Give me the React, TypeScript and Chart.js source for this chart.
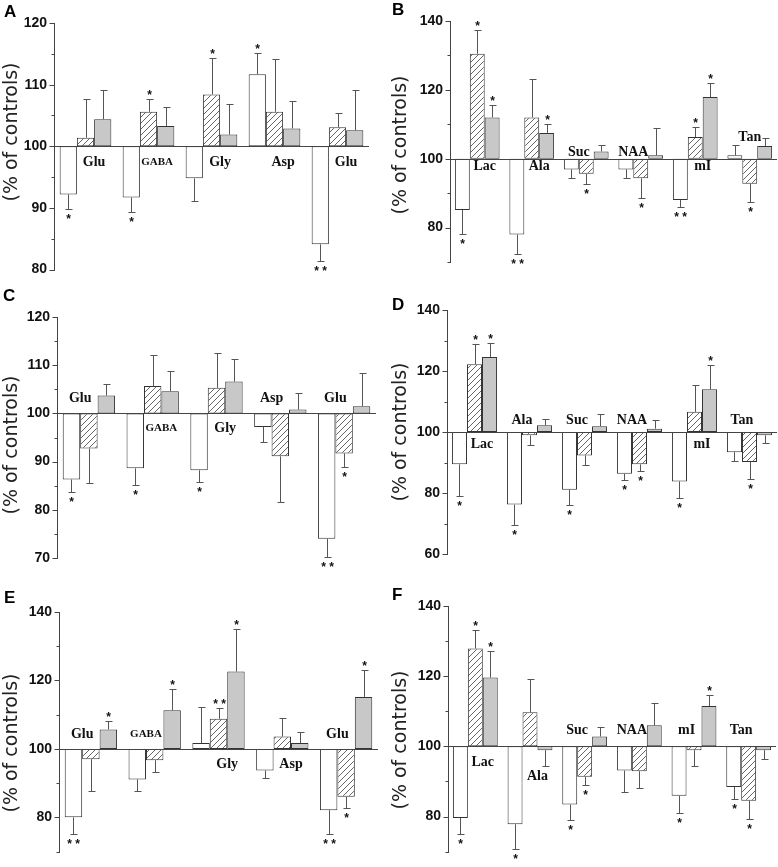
import React, { useEffect, useRef } from 'react';
import { Chart, registerables } from 'chart.js';

Chart.register(...registerables);

// ---------------- Panel A ----------------
const catsA = ['Glu', 'GABA', 'Gly', 'Asp', 'Glu'];
const whiteA = [92.2, 91.7, 94.8, 111.7, 84.1];
const whiteSdA = [2.3, 2.4, 3.6, 3.4, 2.7];
const whiteStarA = ['*', '*', '', '*', '**'];
const hatchA = [101.4, 105.6, 108.4, 105.6, 103.1];
const hatchSdA = [6.3, 2.0, 6.0, 8.6, 2.3];
const hatchStarA = ['', '*', '*', '', ''];
const grayA = [104.4, 103.3, 101.9, 102.9, 102.6];
const graySdA = [4.7, 3.0, 5.0, 4.4, 6.6];
const grayStarA = ['', '', '', '', ''];

// ---------------- Panel B ----------------
const catsB = ['Lac', 'Ala', 'Suc', 'NAA', 'mI', 'Tan'];
const whiteB = [85.1, 78.0, 96.9, 96.9, 88.0, 101.0];
const whiteSdB = [7.1, 5.8, 2.6, 2.5, 2.0, 2.9];
const whiteStarB = ['*', '**', '', '', '**', ''];
const hatchB = [130.5, 112.0, 95.6, 94.3, 106.3, 92.7];
const hatchSdB = [6.9, 11.1, 2.9, 5.7, 3.0, 5.2];
const hatchStarB = ['*', '', '*', '*', '*', '*'];
const grayB = [112.0, 107.5, 102.1, 101.0, 117.9, 103.7];
const graySdB = [3.6, 2.7, 2.0, 8.0, 4.1, 2.2];
const grayStarB = ['*', '*', '', '', '*', ''];

// ---------------- Panel C ----------------
const catsC = ['Glu', 'GABA', 'Gly', 'Asp', 'Glu'];
const whiteC = [86.3, 88.6, 88.2, 97.2, 74.0];
const whiteSdC = [2.6, 3.5, 2.4, 3.2, 3.8];
const whiteStarC = ['*', '*', '*', '', '**'];
const hatchC = [92.7, 105.7, 105.3, 91.1, 91.7];
const hatchSdC = [7.2, 6.5, 7.3, 9.4, 2.8];
const hatchStarC = ['', '', '', '', '*'];
const grayC = [103.7, 104.6, 106.6, 100.8, 101.5];
const graySdC = [2.3, 4.1, 4.6, 3.5, 6.9];
const grayStarC = ['', '', '', '', ''];

// ---------------- Panel D ----------------
const catsD = ['Lac', 'Ala', 'Suc', 'NAA', 'mI', 'Tan'];
const whiteD = [89.4, 76.2, 81.1, 86.3, 83.8, 93.4];
const whiteSdD = [10.5, 6.8, 5.1, 1.9, 5.3, 2.9];
const whiteStarD = ['*', '*', '*', '*', '*', ''];
const hatchD = [122.2, 98.9, 92.3, 89.4, 106.6, 90.2];
const hatchSdD = [6.8, 3.3, 3.2, 2.3, 8.9, 5.5];
const hatchStarD = ['*', '', '', '*', '', '*'];
const grayD = [124.6, 102.2, 101.9, 101.1, 114.0, 98.9];
const graySdD = [4.6, 2.2, 4.1, 2.9, 7.9, 2.5];
const grayStarD = ['*', '', '', '', '*', ''];

// ---------------- Panel E ----------------
const catsE = ['Glu', 'GABA', 'Gly', 'Asp', 'Glu'];
const whiteE = [80.0, 91.1, 101.7, 93.7, 82.1];
const whiteSdE = [5.0, 3.3, 10.6, 2.1, 7.1];
const whiteStarE = ['**', '', '', '', '**'];
const hatchE = [97.0, 96.7, 108.8, 103.6, 86.0];
const hatchSdE = [9.2, 3.3, 3.1, 5.4, 3.3];
const hatchStarE = ['', '', '**', '', '*'];
const grayE = [105.7, 111.3, 122.6, 101.7, 115.2];
const graySdE = [2.4, 6.1, 12.5, 3.1, 8.0];
const grayStarE = ['*', '*', '*', '', '*'];

// ---------------- Panel F ----------------
const catsF = ['Lac', 'Ala', 'Suc', 'NAA', 'mI', 'Tan'];
const whiteF = [79.6, 77.8, 83.4, 93.1, 85.9, 88.4];
const whiteSdF = [4.6, 7.0, 4.4, 6.2, 4.8, 3.4];
const whiteStarF = ['*', '*', '*', '', '*', '*'];
const hatchF = [127.9, 109.7, 91.3, 92.9, 98.9, 84.5];
const hatchSdF = [5.4, 9.6, 2.4, 4.8, 4.5, 5.2];
const hatchStarF = ['*', '', '*', '', '', '*'];
const grayF = [119.6, 98.9, 102.8, 106.0, 111.5, 98.9];
const graySdF = [7.7, 4.4, 2.8, 6.3, 3.1, 2.5];
const grayStarF = ['*', '', '', '', '*', ''];

const yTitle = '(% of controls)';

type PanelCfg = {
  letter: string;
  cats: string[];
  values: number[][];
  sds: number[][];
  stars: string[][];
  min: number;
  max: number;
  minor: number;
  major: number;
  x: number;
  y: number;
  w: number;
  h: number;
  plotLeft: number;
  plotRight: number;
  plotTop: number;
  plotBottom: number;
  labelOff: number;
  titleY: number;
  letterX: number;
  letterY: number;
};

const panels: PanelCfg[] = [
  {
    letter: 'A', cats: catsA, values: [whiteA, hatchA, grayA], sds: [whiteSdA, hatchSdA, graySdA],
    stars: [whiteStarA, hatchStarA, grayStarA], min: 80, max: 120, minor: 5, major: 10,
    x: 0, y: 0, w: 389, h: 285, plotLeft: 54, plotRight: 369, plotTop: 23, plotBottom: 271,
    labelOff: 16, titleY: 132, letterX: 4, letterY: 17,
  },
  {
    letter: 'B', cats: catsB, values: [whiteB, hatchB, grayB], sds: [whiteSdB, hatchSdB, graySdB],
    stars: [whiteStarB, hatchStarB, grayStarB], min: 70, max: 140, minor: 10, major: 20,
    x: 389, y: 0, w: 389, h: 285, plotLeft: 61, plotRight: 388, plotTop: 21, plotBottom: 262,
    labelOff: 7, titleY: 145, letterX: 3, letterY: 15,
  },
  {
    letter: 'C', cats: catsC, values: [whiteC, hatchC, grayC], sds: [whiteSdC, hatchSdC, graySdC],
    stars: [whiteStarC, hatchStarC, grayStarC], min: 70, max: 120, minor: 5, major: 10,
    x: 0, y: 285, w: 389, h: 290, plotLeft: 57, plotRight: 376, plotTop: 32, plotBottom: 273,
    labelOff: 15, titleY: 160, letterX: 3, letterY: 16,
  },
  {
    letter: 'D', cats: catsD, values: [whiteD, hatchD, grayD], sds: [whiteSdD, hatchSdD, graySdD],
    stars: [whiteStarD, hatchStarD, grayStarD], min: 60, max: 140, minor: 10, major: 20,
    x: 389, y: 285, w: 389, h: 290, plotLeft: 58, plotRight: 388, plotTop: 25, plotBottom: 269,
    labelOff: 12, titleY: 147, letterX: 3, letterY: 25,
  },
  {
    letter: 'E', cats: catsE, values: [whiteE, hatchE, grayE], sds: [whiteSdE, hatchSdE, graySdE],
    stars: [whiteStarE, hatchStarE, grayStarE], min: 70, max: 140, minor: 10, major: 20,
    x: 0, y: 575, w: 389, h: 292, plotLeft: 59, plotRight: 378, plotTop: 37, plotBottom: 286,
    labelOff: 15, titleY: 168, letterX: 4, letterY: 28,
  },
  {
    letter: 'F', cats: catsF, values: [whiteF, hatchF, grayF], sds: [whiteSdF, hatchSdF, graySdF],
    stars: [whiteStarF, hatchStarF, grayStarF], min: 70, max: 140, minor: 10, major: 20,
    x: 389, y: 575, w: 389, h: 292, plotLeft: 59, plotRight: 387, plotTop: 31, plotBottom: 282,
    labelOff: 16, titleY: 165, letterX: 3, letterY: 25,
  },
];

function makeHatch(): CanvasPattern | string {
  const c = document.createElement('canvas');
  c.width = 6;
  c.height = 6;
  const g = c.getContext('2d');
  if (!g) return '#ddd';
  g.fillStyle = '#ffffff';
  g.fillRect(0, 0, 6, 6);
  g.strokeStyle = '#555';
  g.lineWidth = 0.9;
  g.beginPath();
  g.moveTo(0, 6);
  g.lineTo(6, 0);
  g.moveTo(-1, 1);
  g.lineTo(1, -1);
  g.moveTo(5, 7);
  g.lineTo(7, 5);
  g.stroke();
  return g.createPattern(c, 'repeat') || '#ddd';
}

function makePlugin(cfg: PanelCfg) {
  return {
    id: 'panelDecor',
    afterDraw(chart: any) {
      const { ctx, chartArea } = chart;
      const ys = chart.scales.y;
      const L = Math.round(chartArea.left) + 0.5;
      const pix = (v: number) => ys.getPixelForValue(v);
      ctx.save();
      ctx.strokeStyle = '#444';
      ctx.lineWidth = 1;

      // y axis line
      ctx.beginPath();
      ctx.moveTo(L, Math.round(pix(cfg.max)));
      ctx.lineTo(L, Math.round(pix(cfg.min)) + 1);
      ctx.stroke();
      // tick marks
      for (let v = cfg.min; v <= cfg.max + 0.001; v += cfg.minor) {
        const py = Math.round(pix(v)) + 0.5;
        const len = Math.abs(v % cfg.major) < 0.001 ? 5 : 3;
        ctx.beginPath();
        ctx.moveTo(L - len, py);
        ctx.lineTo(L, py);
        ctx.stroke();
      }
      // 100 % baseline
      const y100 = Math.round(pix(100)) + 0.5;
      ctx.beginPath();
      ctx.moveTo(L, y100);
      ctx.lineTo(chartArea.right, y100);
      ctx.stroke();

      // error bars and significance stars
      ctx.strokeStyle = '#555';
      ctx.fillStyle = '#111';
      ctx.textAlign = 'center';
      ctx.textBaseline = 'alphabetic';
      cfg.values.forEach((vals, di) => {
        const meta = chart.getDatasetMeta(di);
        vals.forEach((v, i) => {
          const el = meta.data[i];
          if (!el) return;
          const x = Math.round(el.x) + 0.5;
          const sd = cfg.sds[di][i];
          const up = v >= 100;
          const end = up ? v + sd : v - sd;
          const pv = pix(v);
          const pe = Math.round(pix(end)) + 0.5;
          ctx.beginPath();
          ctx.moveTo(x, pv);
          ctx.lineTo(x, pe);
          ctx.moveTo(x - 3, pe);
          ctx.lineTo(x + 4, pe);
          ctx.stroke();
          const s = cfg.stars[di][i];
          if (s) {
            const fs = 12;
            ctx.font = `bold ${fs}px "Liberation Sans", Arial, sans-serif`;
            const cy = up ? pe - 7 : pe + 7;
            const txt = s === '**' ? '* *' : s;
            ctx.fillText(txt, x, cy + fs * 0.57);
          }
        });
      });

      // category labels
      const hatchMeta = chart.getDatasetMeta(1);
      ctx.fillStyle = '#111';
      ctx.textBaseline = 'middle';
      cfg.cats.forEach((cat, i) => {
        const el = hatchMeta.data[i];
        if (!el) return;
        const fs = cat.length >= 4 ? 11 : 14;
        ctx.font = `bold ${fs}px "Liberation Serif", "Times New Roman", serif`;
        const below = cfg.values[1][i] >= 100;
        let lx: number;
        let ly: number;
        if (below) {
          lx = el.x + el.width / 2;
          ly = y100 + cfg.labelOff;
          const g = cfg.values[2][i];
          if (g < 100) {
            ly = Math.max(ly, pix(g - cfg.sds[2][i]) + 11);
          }
        } else {
          lx = el.x - el.width / 2;
          ly = y100 - cfg.labelOff;
          const w = cfg.values[0][i];
          if (w > 100) {
            ly = Math.min(ly, pix(w + cfg.sds[0][i]) - 8);
            lx = el.x;
          }
        }
        ctx.fillText(cat, lx, ly);
      });

      // panel letter
      ctx.textAlign = 'left';
      ctx.textBaseline = 'alphabetic';
      ctx.font = 'bold 17px "Liberation Sans", Arial, sans-serif';
      ctx.fillStyle = '#000';
      ctx.fillText(cfg.letter, cfg.letterX, cfg.letterY);

      // y title
      ctx.save();
      ctx.translate(12, cfg.titleY);
      ctx.rotate(-Math.PI / 2);
      ctx.font = '19px "DejaVu Sans", sans-serif';
      ctx.fillStyle = '#222';
      ctx.textAlign = 'center';
      ctx.textBaseline = 'middle';
      ctx.fillText(yTitle, 0, 0);
      ctx.restore();

      ctx.restore();
    },
  };
}

function Panel({ cfg }: { cfg: PanelCfg }) {
  const ref = useRef<HTMLCanvasElement>(null);
  useEffect(() => {
    const canvas = ref.current;
    if (!canvas) return;
    const hatch = makeHatch();
    const fills = ['#ffffff', hatch, '#c8c8c8'];
    const chart = new Chart(canvas, {
      type: 'bar',
      data: {
        labels: cfg.cats,
        datasets: cfg.values.map((vals, i) => ({
          data: vals.map((v) => [100, v]) as any,
          backgroundColor: fills[i] as any,
          borderColor: '#333',
          borderWidth: 1,
          borderSkipped: false,
          categoryPercentage: 0.82,
          barPercentage: 1,
        })),
      },
      options: {
        animation: false,
        responsive: false,
        devicePixelRatio: 1,
        events: [],
        layout: {
          padding: {
            left: 0,
            right: cfg.w - cfg.plotRight,
            top: cfg.plotTop,
            bottom: cfg.h - cfg.plotBottom,
          },
        },
        plugins: {
          legend: { display: false },
          tooltip: { enabled: false },
        },
        scales: {
          x: { display: false },
          y: {
            min: cfg.min,
            max: cfg.max,
            afterFit: (s: any) => {
              s.width = cfg.plotLeft;
            },
            grid: { display: false, drawTicks: false },
            border: { display: false },
            ticks: {
              stepSize: cfg.minor,
              autoSkip: false,
              padding: 7,
              color: '#111',
              font: { family: '"Liberation Sans", Arial, sans-serif', weight: 'bold', size: 14 },
              callback: (v: any) => (Math.abs(Number(v) % cfg.major) < 0.001 ? String(v) : null),
            },
          },
        },
      } as any,
      plugins: [makePlugin(cfg)],
    });
    return () => chart.destroy();
  }, [cfg]);
  return (
    <canvas
      ref={ref}
      width={cfg.w}
      height={cfg.h}
      style={{ position: 'absolute', left: cfg.x, top: cfg.y, width: cfg.w, height: cfg.h }}
    />
  );
}

export default function App() {
  return (
    <div style={{ position: 'absolute', left: 0, top: 0, width: 778, height: 867, background: '#fff' }}>
      {panels.map((p) => (
        <Panel key={p.letter} cfg={p} />
      ))}
    </div>
  );
}
